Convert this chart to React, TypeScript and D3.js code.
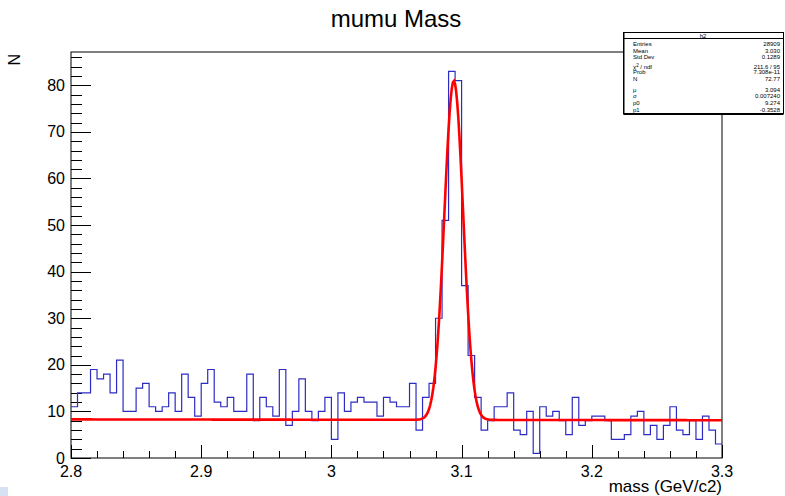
import { useEffect, useRef } from 'react';
import * as d3 from 'd3';

// histogram h2, 100 bins over [2.8, 3.3]
const xMin = 2.8;
const xMax = 3.3;
const counts: number[] = [
  11, 14, 14, 19, 17, 18, 14, 21, 10, 10,
  15, 16, 11, 10, 11, 14, 10, 18, 13, 9,
  16, 19, 12, 11, 13, 10, 10, 18, 8, 13,
  11, 9, 19, 7, 10, 17, 10, 8, 10, 13,
  4, 14, 10, 12, 13, 12, 12, 9, 13, 12,
  11, 11, 16, 6, 13, 16, 30, 51, 83, 81,
  37, 22, 13, 6, 8, 11, 11, 14, 6, 5,
  10, 1, 11, 9, 10, 8, 5, 13, 7, 8,
  9, 9, 8, 4, 4, 5, 9, 10, 5, 7,
  4, 7, 11, 6, 5, 8, 4, 9, 6, 3,
];
const xTicks = [2.8, 2.9, 3.0, 3.1, 3.2, 3.3];
const xTickLabels = ['2.8', '2.9', '3', '3.1', '3.2', '3.3'];
const yTicks = [0, 10, 20, 30, 40, 50, 60, 70, 80];

// gaus + pol1 fit result
const fitN = 72.77;
const fitMu = 3.094;
const fitSigma = 0.00724;
const fitP0 = 9.274;
const fitP1 = -0.3528;

const statLabels = ['Entries', 'Mean', 'Std Dev', 'χ2 / ndf', 'Prob', 'N', 'μ', 'σ', 'p0', 'p1'];
const statValues = ['28909', '3.030', '0.1289', '211.6 / 95', '7.308e-11', '72.77', '3.094', '0.007240', '9.274', '-0.3528'];
const statRowY = [46, 53, 59, 69, 74, 81, 92, 98, 105, 112];

const W = 785, H = 496;
const font = "'Liberation Sans', Arial, Helvetica, sans-serif";

export default function App() {
  const svgRef = useRef<SVGSVGElement>(null);

  useEffect(() => {
    if (!svgRef.current) return;
    const svg = d3.select(svgRef.current);
    svg.selectAll('*').remove();

    const fl = 71, fr = 722, ft = 52, fb = 458;
    const yMax = d3.max(counts)! * 1.05;
    const x = d3.scaleLinear().domain([xMin, xMax]).range([fl, fr]);
    const y = d3.scaleLinear().domain([0, yMax]).range([fb, ft]);
    const bw = (xMax - xMin) / counts.length;

    svg.append('rect').attr('width', W).attr('height', H).attr('fill', '#fff');

    // frame
    svg.append('rect').attr('x', fl).attr('y', ft).attr('width', fr - fl).attr('height', fb - ft)
      .attr('fill', 'none').attr('stroke', '#000').attr('stroke-width', 1);

    // y ticks (inside frame)
    const yMinor = d3.range(0, yMax, 2);
    svg.append('g').selectAll('line').data(yMinor).join('line')
      .attr('x1', fl).attr('x2', d => fl + (d % 10 === 0 ? 20 : 11))
      .attr('y1', d => Math.round(y(d)) + 0.5).attr('y2', d => Math.round(y(d)) + 0.5)
      .attr('stroke', '#000');
    svg.append('g').selectAll('text').data(yTicks).join('text')
      .attr('x', 65).attr('y', d => y(d) + 5.5)
      .attr('text-anchor', 'end').attr('font-family', font).attr('font-size', 16)
      .text(d => String(d));

    // x ticks (inside frame)
    const xMinor = d3.range(0, 26).map(i => xMin + i * 0.02);
    svg.append('g').selectAll('line').data(xMinor).join('line')
      .attr('x1', d => Math.round(x(d)) + 0.5).attr('x2', d => Math.round(x(d)) + 0.5)
      .attr('y1', fb).attr('y2', (d, i) => fb - (i % 5 === 0 ? 13 : 7))
      .attr('stroke', '#000');
    svg.append('g').selectAll('text').data(xTicks).join('text')
      .attr('x', d => x(d)).attr('y', 477)
      .attr('text-anchor', 'middle').attr('font-family', font).attr('font-size', 16)
      .text((d, i) => xTickLabels[i]);

    // histogram outline
    const pts: [number, number][] = counts.map((c, i) => [xMin + i * bw, c]);
    pts.push([xMax, counts[counts.length - 1]]);
    const step = d3.line<[number, number]>().x(d => x(d[0])).y(d => y(d[1])).curve(d3.curveStepAfter);
    svg.append('path').datum(pts).attr('d', step)
      .attr('fill', 'none').attr('stroke', '#2c2cc4').attr('stroke-width', 1.2);

    // fit curve
    const fitFn = (m: number) => fitN * Math.exp(-0.5 * ((m - fitMu) / fitSigma) ** 2) + fitP0 + fitP1 * m;
    const fx = d3.range(0, 601).map(i => xMin + (xMax - xMin) * i / 600);
    const fit = d3.line<number>().x(d => x(d)).y(d => y(fitFn(d)));
    svg.append('path').datum(fx).attr('d', fit)
      .attr('fill', 'none').attr('stroke', '#ff0000').attr('stroke-width', 2.6);

    // titles
    svg.append('text').attr('x', 396).attr('y', 27).attr('text-anchor', 'middle')
      .attr('font-family', font).attr('font-size', 24).text('mumu Mass');
    svg.append('text').attr('x', fr).attr('y', 492).attr('text-anchor', 'end')
      .attr('font-family', font).attr('font-size', 17).text('mass (GeV/c2)');
    svg.append('text').attr('transform', `translate(20,${ft + 2}) rotate(-90)`).attr('text-anchor', 'end')
      .attr('font-family', font).attr('font-size', 16).text('N');

    // stats box
    const sb = svg.append('g');
    sb.append('rect').attr('x', 623.5).attr('y', 32.5).attr('width', 160).attr('height', 81)
      .attr('fill', '#fff').attr('stroke', '#000');
    sb.append('line').attr('x1', 624).attr('x2', 624).attr('y1', 33).attr('y2', 114.5).attr('stroke', '#000');
    sb.append('line').attr('x1', 623.5).attr('x2', 783.5).attr('y1', 114.5).attr('y2', 114.5).attr('stroke', '#000');
    sb.append('line').attr('x1', 623.5).attr('x2', 783.5).attr('y1', 38.5).attr('y2', 38.5).attr('stroke', '#000');
    sb.append('text').attr('x', 703).attr('y', 37.5).attr('text-anchor', 'middle')
      .attr('font-family', font).attr('font-size', 6).text('h2');
    statLabels.forEach((l, i) => {
      const t = sb.append('text').attr('x', 633).attr('y', statRowY[i])
        .attr('font-family', font).attr('font-size', 6);
      if (l.startsWith('χ2')) {
        t.append('tspan').text('χ');
        t.append('tspan').attr('dy', -2).attr('font-size', 4.5).text('2');
        t.append('tspan').attr('dy', 2).text(' / ndf');
      } else t.text(l);
      sb.append('text').attr('x', 780).attr('y', statRowY[i]).attr('text-anchor', 'end')
        .attr('font-family', font).attr('font-size', 6).text(statValues[i]);
    });

    // little corner mark bottom-left
    svg.append('rect').attr('x', 0).attr('y', 487).attr('width', 8).attr('height', 9).attr('fill', '#d6e2f2');
  }, []);

  return (
    <svg ref={svgRef} width={W} height={H}
      style={{ position: 'absolute', left: 0, top: 0, display: 'block' }} />
  );
}
